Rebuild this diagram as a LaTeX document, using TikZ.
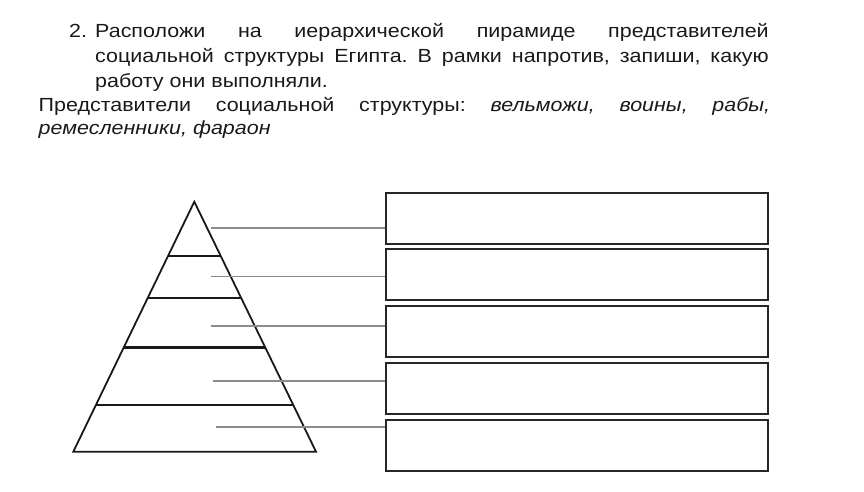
\documentclass[tikz,border=0pt]{standalone}
\usepackage{fontspec}
\setmainfont{Liberation Sans}[FakeStretch=1.13]
\usetikzlibrary{calc}
\begin{document}
\frenchspacing
\begin{tikzpicture}[x=1pt,y=-1pt,
  txt/.style={anchor=base west, inner sep=0pt, font=\fontsize{19}{22}\selectfont, text=black!90},
  answerbox/.style={draw=black!85, line width=2pt, minimum width=382.6pt, minimum height=51pt, inner sep=0pt},
  conn/.style={draw=black!45, line width=1.8pt},
  pyr/.style={draw=black!90, line width=1.8pt, line join=miter},
  divider/.style={draw=black!90, line width=2.4pt}]
\useasboundingbox (0,0) rectangle (864,491);
% text
\node[txt] (num) at (69,37.5) {2.};
\node[txt] (l1) at (95,37.5) {\makebox[673.5pt][s]{Расположи на иерархической пирамиде представителей}};
\node[txt] (l2) at (95,62.5) {\makebox[673.5pt][s]{социальной структуры Египта. В рамки напротив, запиши, какую}};
\node[txt] (l3) at (95,87.5) {работу они выполняли.};
\node[txt] (l4) at (38.5,111) {\makebox[731.5pt][s]{Представители социальной структуры: \textit{вельможи, воины, рабы,}}};
\node[txt] (l5) at (38.5,134.5) {\textit{ремесленники, фараон}};
% pyramid
\coordinate (apex) at (194.3,201.7);
\coordinate (bl) at (73.3,451.7);
\coordinate (br) at (316,451.7);
\draw[pyr] (apex) -- (bl) -- (br) -- cycle;
\foreach \t in {0.2172,0.384,0.5824,0.8132}
  \draw[divider] ($(apex)!\t!(bl)$) -- ($(apex)!\t!(br)$);
% boxes
\node[answerbox] (b1) at (577,218.7) {};
\node[answerbox] (b2) at (577,274.8) {};
\node[answerbox] (b3) at (577,331.8) {};
\node[answerbox] (b4) at (577,388.7) {};
\node[answerbox] (b5) at (577,445.9) {};
% connectors
\coordinate (c1) at (211,228);
\coordinate (c2) at (210.7,276.5);
\coordinate (c3) at (210.7,326);
\coordinate (c4) at (213.3,381);
\coordinate (c5) at (216,426.7);
\foreach \i in {1,...,5}
  \draw[conn] (c\i) -- (c\i -| b\i.west);
\end{tikzpicture}
\end{document}
